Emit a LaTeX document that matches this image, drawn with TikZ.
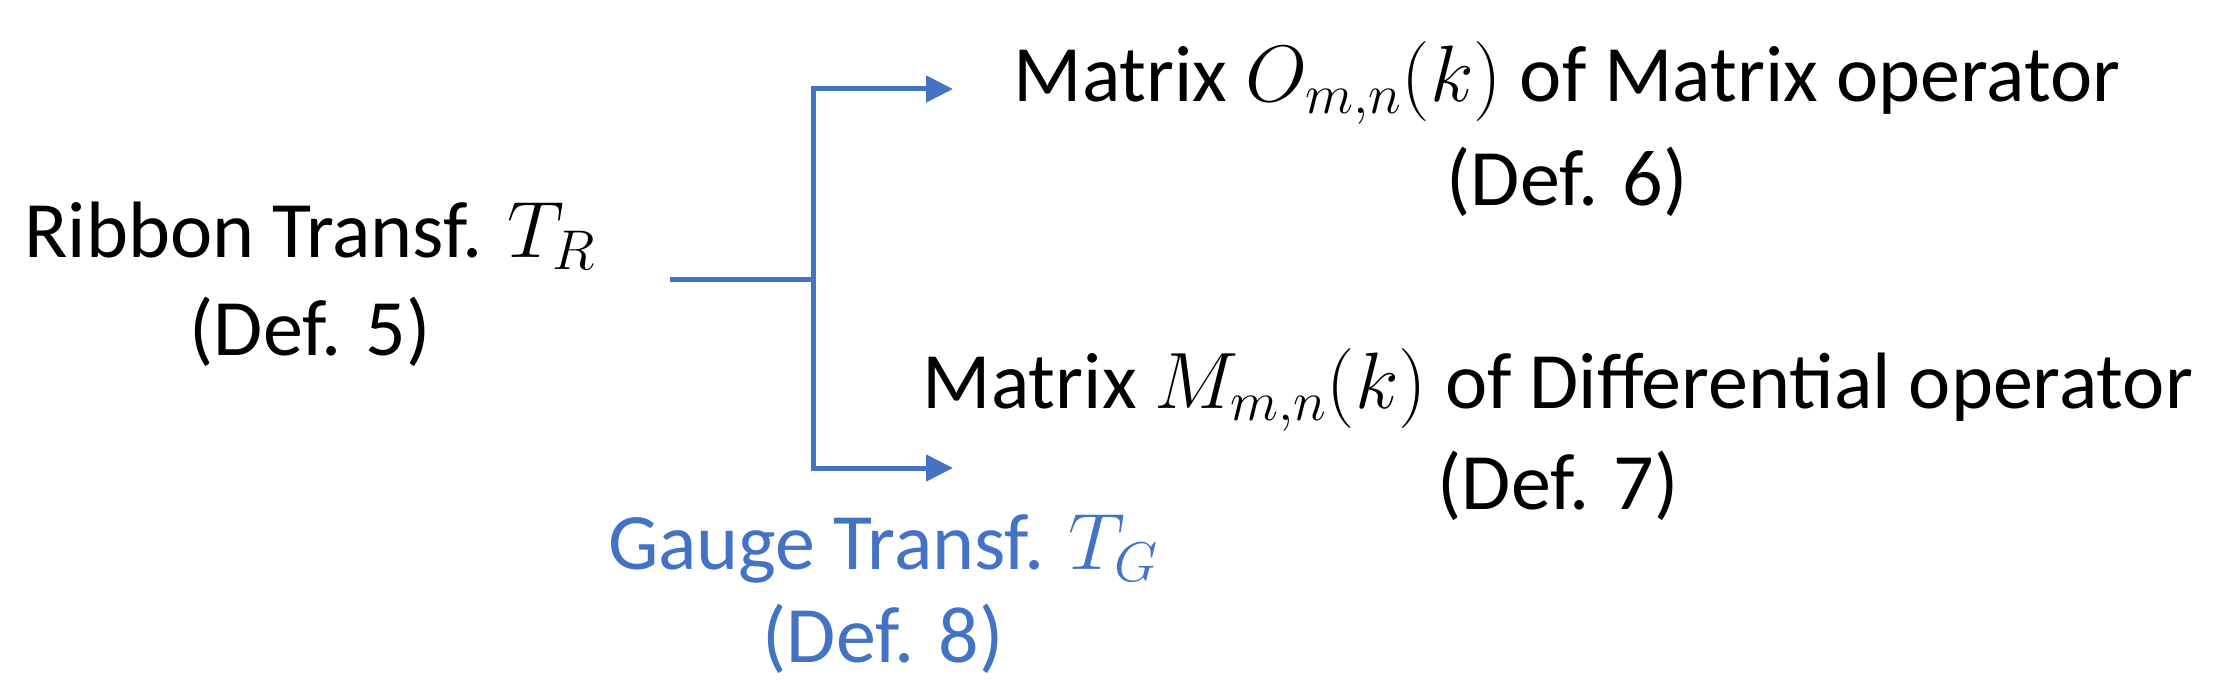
\RequirePackage{fix-cm}
\documentclass[tikz,border=0pt]{standalone}
\usepackage{fontspec}
\setmainfont{Carlito}
\usetikzlibrary{arrows.meta}
\definecolor{pptblue}{HTML}{4472C4}
\begin{document}
\begin{tikzpicture}[x=1pt,y=-1pt,
  lbl/.style={align=center,anchor=base,inner sep=0pt,font=\fontsize{80}{98}\selectfont},
  conn/.style={draw=pptblue,line width=5pt},
  arr/.style={conn,-{Triangle[length=27pt,width=26pt]}}]
\useasboundingbox (0,0) rectangle (2234,695);
\node[lbl] (ribbon) at (310,355) {Ribbon Transf. $T_R$\\(Def. 5)};
\node[lbl,font=\fontsize{80}{104}\selectfont] (omat) at (1567,205) {Matrix $O_{m,n}(k)$ of Matrix operator\\(Def. 6)};
\node[lbl,font=\fontsize{80}{101}\selectfont] (mmat) at (1558,509) {Matrix $M_{m,n}(k)$ of Differential operator\\(Def. 7)};
\node[lbl,text=pptblue,font=\fontsize{80}{93}\selectfont] (gauge) at (883,662) {Gauge Transf. $T_G$\\(Def. 8)};
\coordinate (start) at (670,279);
\coordinate (split) at (813,279);
\coordinate (toO) at (953,89);
\coordinate (toM) at (953,468);
\draw[conn] (start) -- (split);
\draw[arr] (split) |- (toO);
\draw[arr] (split) |- (toM);
\end{tikzpicture}
\end{document}
